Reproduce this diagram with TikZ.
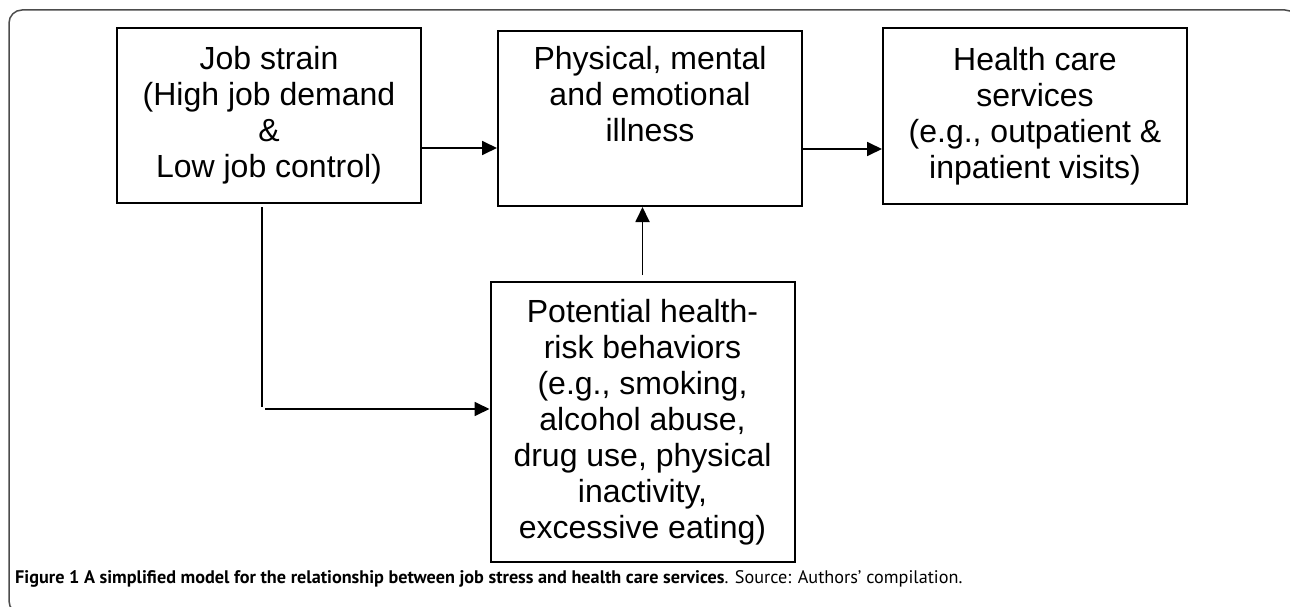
\documentclass[tikz,border=0pt]{standalone}
\usepackage{fontspec}
\setmainfont{Liberation Sans}
\newfontfamily\capfont{PT Sans}
\usetikzlibrary{arrows.meta}
\begin{document}
\begin{tikzpicture}[x=1pt,y=-1pt,
  box/.style={draw, line width=2pt, minimum width=304pt, inner sep=0pt, align=center, font=\fontsize{32}{36}\selectfont},
  conn/.style={line width=1.8pt},
  arr/.style={conn, -{Triangle[length=15pt,width=14pt]}},
  frm/.style={draw=black!70, line width=1.5pt, rounded corners=13pt}]
\useasboundingbox (0,0) rectangle (1290,607);
\draw[frm] (9,10) rectangle (1298,614);
\node[box, minimum height=175pt] (b1) at (269,115.4) {Job strain\\(High job demand\\\&\\Low job control)};
\node[box, minimum height=175pt] (b2) at (650,118.5) {\parbox[c][144pt][t]{300pt}{\centering Physical, mental\\and emotional\\illness}};
\node[box, minimum height=176pt] (b3) at (1035,116) {Health care\\services\\(e.g., outpatient \&\\inpatient visits)};
\node[box, minimum height=280pt] (b4) at (642.5,422) {Potential health-\\risk behaviors\\(e.g., smoking,\\alcohol abuse,\\drug use, physical\\inactivity,\\excessive eating)};
\coordinate (ya) at (0,148);
\coordinate (yb) at (0,149);
\draw[arr] (b1.east |- ya) -- (b2.west |- ya);
\draw[arr] (b2.east |- yb) -- (b3.west |- yb);
\draw[arr, shorten <=6pt] (b4.north) -- (b2.south -| b4.north);
\coordinate (c1) at (262,409);
\draw[conn, shorten <=3.5pt, shorten >=2.5pt] (b1.south -| c1) -- (c1);
\draw[arr, shorten <=3pt] (c1) -- (b4.west |- c1);
\node[anchor=base west, inner sep=0pt, font=\capfont\fontsize{18.2}{20}\selectfont] (cap) at (15,583) {\textbf{Figure 1 A simplified model for the relationship between job stress and health care services}. Source: Authors’ compilation.};
\end{tikzpicture}
\end{document}
